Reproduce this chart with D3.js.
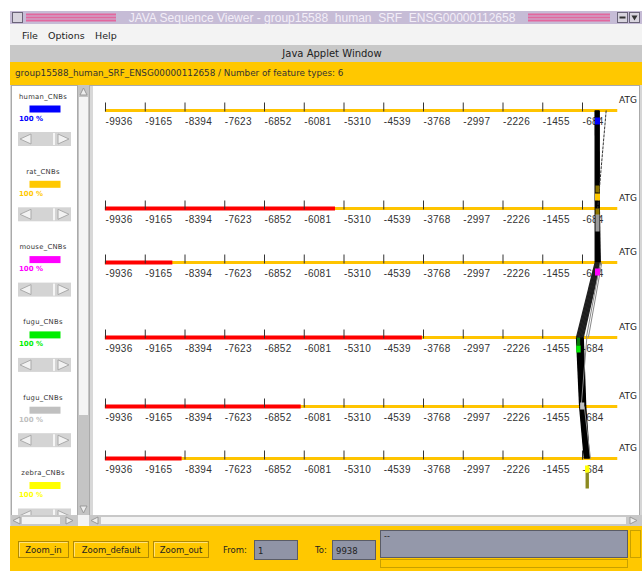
<!DOCTYPE html>
<html>
<head>
<meta charset="utf-8">
<script src="https://cdn.jsdelivr.net/npm/d3@7"></script>
<style>
  body { margin: 0; background: #fff; }
  svg { display: block; }
  text { font-family: "DejaVu Sans", sans-serif; }
</style>
</head>
<body>
<div id="viewer"></div>
<script>
// Sequence range shown (bp upstream of ATG)
const seqStart = -9938;
const seqEnd = 0;
const tickValues = [-9936, -9165, -8394, -7623, -6852, -6081, -5310, -4539, -3768, -2997, -2226, -1455, -684];

// One row per species track
const trackNames = ["human_CNBs", "rat_CNBs", "mouse_CNBs", "fugu_CNBs", "fugu_CNBs", "zebra_CNBs"];
const trackColors = ["#0000ff", "#ffc800", "#ff00ff", "#00ee00", "#c0c0c0", "#ffff00"];
const trackPercent = ["100 %", "100 %", "100 %", "100 %", "100 %", "100 %"];
// red region runs from seqStart up to this value (null = none)
const redEnds = [null, -5475, -8630, -3790, -6140, -8450];

// CNB anchor positions (bp), linked by index to the next track
const cnbHuman = [-430, -414, -398, -382, -366, -350];
const cnbRat = [-428, -412, -396, -380, -364, -348];
const cnbMouse = [-428, -408, -388, -368, -348, -330];
const cnbFugu = [-790, -764, -738, -712, -686, -660];
const cnbFugu2 = [-730, -706, -682, -658, -634, -612];
const cnbZebra = [-640, -620, -600, -580, -560, -540];
const cnbTracks = [cnbHuman, cnbRat, cnbMouse, cnbFugu, cnbFugu2, cnbZebra];

// highlighted feature block on each track
const featStart = [-432, -432, -432, -795, -720, -625];
const featEnd = [-335, -335, -335, -710, -640, -540];
// secondary (darker) hits next to the highlighted block
const hitTrack = [1, 1, 1, 3, 5];
const hitColor = ["#8c7400", "#8c7400", "#9a9a9a", "#0a7a0a", "#8c8a20"];
const hitTop = [-23, 0, 6, 0, 14];
const hitHeight = [7, 7, 17, 8, 16];

// weaker hits drawn in grey: track index, bp on that track, bp on next track
const weakTrack = [0, 2, 2, 3, 4];
const weakFrom = [-215, -330, -300, -590, -640];
const weakTo = [-380, -600, -560, -700, -520];

// ---- layout ----
const W = 642, H = 575;
const trackY = [110.5, 208.5, 262.5, 337.5, 406.5, 458.5];
const blockOffset = [7, -15, 6, 8, -4, 7];

const svg = d3.select("#viewer").append("svg")
    .attr("width", W)
    .attr("height", H);

// window frame
svg.append("rect").attr("x", 10).attr("y", 11).attr("width", 632).attr("height", 560).attr("fill", "#d6d6d6");

// title bar
svg.append("rect").attr("x", 10).attr("y", 11).attr("width", 632).attr("height", 13).attr("fill", "#c6bcd6");
[[26, 116], [528, 610]].forEach(function(s) {
    [13.5, 16.5, 19.5].forEach(function(y) {
        svg.append("rect").attr("x", s[0]).attr("y", y).attr("width", s[1] - s[0]).attr("height", 2).attr("fill", "#e2679e");
    });
});
function winButton(x, y, sym) {
    svg.append("rect").attr("x", x).attr("y", y).attr("width", 10).attr("height", 10)
        .attr("fill", "#d8d4de").attr("stroke", "#6a6478").attr("stroke-width", 1);
    if (sym === "min") {
        svg.append("rect").attr("x", x + 2).attr("y", y + 4).attr("width", 6).attr("height", 2).attr("fill", "#333");
    } else if (sym === "max") {
        svg.append("path").attr("d", `M${x + 2},${y + 3}L${x + 8},${y + 3}L${x + 5},${y + 8}Z`).attr("fill", "#333");
    }
}
winButton(12.5, 12.5, "box");
winButton(617.5, 12.5, "min");
winButton(629.5, 12.5, "max");
svg.append("text").attr("x", 322).attr("y", 22).attr("text-anchor", "middle")
    .style("font-family", "'Liberation Sans', sans-serif").style("font-size", "12px")
    .attr("fill", "#f3eef8")
    .text("JAVA Sequence Viewer - group15588_human_SRF_ENSG00000112658");

// menu bar
svg.append("rect").attr("x", 10).attr("y", 24).attr("width", 632).attr("height", 21).attr("fill", "#f3f3f3");
[["File", 22], ["Options", 48], ["Help", 95]].forEach(function(m) {
    svg.append("text").attr("x", m[1]).attr("y", 39).style("font-size", "9.5px").attr("fill", "#222").text(m[0]);
});

// applet banner
svg.append("rect").attr("x", 10).attr("y", 45).attr("width", 632).attr("height", 17).attr("fill", "#c8c8c8");
svg.append("text").attr("x", 332).attr("y", 57).attr("text-anchor", "middle").style("font-size", "10px")
    .attr("fill", "#222").text("Java Applet Window");

// group header
svg.append("rect").attr("x", 10).attr("y", 62).attr("width", 632).attr("height", 23).attr("fill", "#ffc800");
svg.append("text").attr("x", 15).attr("y", 76).style("font-size", "8.8px").attr("fill", "#333")
    .text("group15588_human_SRF_ENSG00000112658 / Number of feature types: 6");

// ---- legend panel ----
svg.append("rect").attr("x", 11.5).attr("y", 85.5).attr("width", 66).attr("height", 430)
    .attr("fill", "#fff").attr("stroke", "#aaa");
const legend = svg.append("g").attr("clip-path", "url(#legendClip)");
svg.append("clipPath").attr("id", "legendClip").append("rect").attr("x", 12).attr("y", 86).attr("width", 65).attr("height", 429);

function slider(g, x, y, w, h) {
    g.append("rect").attr("x", x).attr("y", y).attr("width", w).attr("height", h).attr("fill", "#d4d4d4");
    g.append("path").attr("d", `M${x + 13},${y + 2}L${x + 2},${y + h / 2}L${x + 13},${y + h - 2}Z`)
        .attr("fill", "#f2f2f2").attr("stroke", "#aaa");
    g.append("path").attr("d", `M${x + w - 13},${y + 2}L${x + w - 2},${y + h / 2}L${x + w - 13},${y + h - 2}Z`)
        .attr("fill", "#f2f2f2").attr("stroke", "#aaa");
    g.append("rect").attr("x", x + w - 18).attr("y", y + 1).attr("width", 2).attr("height", h - 2).attr("fill", "#f6f6f6");
}

trackNames.forEach(function(name, i) {
    const top = 85 + i * 75.3;
    legend.append("text").attr("x", 43).attr("y", top + 13.5).attr("text-anchor", "middle")
        .style("font-size", "6.8px").style("letter-spacing", "0.3px").attr("fill", "#333").text(name);
    legend.append("rect").attr("x", 29.5).attr("y", top + 20.5).attr("width", 31).attr("height", 7)
        .attr("fill", trackColors[i]);
    legend.append("text").attr("x", 19).attr("y", top + 35.5)
        .style("font-size", "7px").style("font-weight", "bold").attr("fill", trackColors[i]).text(trackPercent[i]);
    slider(legend, 18, top + 47, 53, 14);
});

// legend vertical scrollbar
svg.append("rect").attr("x", 78).attr("y", 85).attr("width", 11).attr("height", 430).attr("fill", "#c4c4c4");
svg.append("rect").attr("x", 79).attr("y", 97).attr("width", 9).attr("height", 318).attr("fill", "#f4f4f4");
svg.append("path").attr("d", "M80,95L83.5,88L87,95Z").attr("fill", "#eee").attr("stroke", "#999");
svg.append("path").attr("d", "M80,506L83.5,513L87,506Z").attr("fill", "#eee").attr("stroke", "#999");

// ---- main sequence panel ----
svg.append("rect").attr("x", 89.5).attr("y", 85.5).attr("width", 550).attr("height", 430)
    .attr("fill", "#fff").attr("stroke", "#aaa");
svg.append("rect").attr("x", 90).attr("y", 86).attr("width", 3).attr("height", 429).attr("fill", "#d8d8d8");

const x = d3.scaleLinear().domain([tickValues[0], tickValues[tickValues.length - 1]]).range([105, 582]);

const main = svg.append("g");

trackNames.forEach(function(name, i) {
    const y = trackY[i];
    const row = main.append("g").attr("transform", `translate(0,${y})`);

    row.append("line").attr("x1", x(seqStart)).attr("x2", x(seqEnd)).attr("y1", 0).attr("y2", 0)
        .attr("stroke", "#ffc400").attr("stroke-width", 3);
    if (redEnds[i] !== null) {
        row.append("line").attr("x1", x(seqStart)).attr("x2", x(redEnds[i])).attr("y1", 0).attr("y2", 0)
            .attr("stroke", "#ff0000").attr("stroke-width", 4);
    }

    const axis = d3.axisTop(x).tickValues(tickValues).tickSize(9).tickFormat("");
    const ag = row.append("g").attr("transform", "translate(0,1)").call(axis);
    ag.select(".domain").remove();
    ag.selectAll(".tick line").attr("stroke", "#333").attr("stroke-width", 1);

    row.selectAll("text.tl").data(tickValues).enter().append("text")
        .attr("class", "tl")
        .attr("x", function(d) { return x(d) + 0.5; })
        .attr("y", 14.5)
        .style("font-family", "'Liberation Sans', sans-serif")
        .style("font-size", "10px")
        .style("letter-spacing", "0.3px")
        .attr("fill", "#333")
        .text(function(d) { return String(d); });

    row.append("text").attr("x", 619).attr("y", -8).style("font-size", "9px").attr("fill", "#222").text("ATG");
});

// links between neighbouring tracks: solid band plus the individual hit lines
for (let t = 0; t < cnbTracks.length - 1; t++) {
    const a = cnbTracks[t], b = cnbTracks[t + 1];
    main.append("path")
        .attr("d", `M${x(a[0])},${trackY[t]}L${x(a[a.length - 1])},${trackY[t]}` +
                   `L${x(b[b.length - 1])},${trackY[t + 1]}L${x(b[0])},${trackY[t + 1]}Z`)
        .attr("fill", "#000");
    a.forEach(function(p, j) {
        main.append("line")
            .attr("x1", x(p)).attr("y1", trackY[t])
            .attr("x2", x(b[j])).attr("y2", trackY[t + 1])
            .attr("stroke", t === 2 ? "#222" : "#000").attr("stroke-width", 1.3);
    });
}
weakTrack.forEach(function(t, k) {
    main.append("line")
        .attr("x1", x(weakFrom[k])).attr("y1", trackY[t])
        .attr("x2", x(weakTo[k])).attr("y2", trackY[t + 1])
        .attr("stroke", k === 0 ? "#333" : "#888").attr("stroke-width", 1)
        .attr("stroke-dasharray", k === 0 ? "3,1" : null);
});

// secondary hits, then the highlighted feature blocks on top
hitTrack.forEach(function(t, k) {
    main.append("rect")
        .attr("x", x(featStart[t]) + 0.5)
        .attr("y", trackY[t] + hitTop[k])
        .attr("width", x(featEnd[t]) - x(featStart[t]) - 1)
        .attr("height", hitHeight[k])
        .attr("fill", hitColor[k]);
});
trackNames.forEach(function(name, i) {
    main.append("rect")
        .attr("x", x(featStart[i]))
        .attr("y", trackY[i] + blockOffset[i])
        .attr("width", x(featEnd[i]) - x(featStart[i]))
        .attr("height", 7)
        .attr("fill", trackColors[i]);
});

// ---- bottom scrollbars ----
svg.append("rect").attr("x", 11).attr("y", 515).attr("width", 631).attr("height", 11).attr("fill", "#c8c8c8");
svg.append("rect").attr("x", 22).attr("y", 517).attr("width", 38).attr("height", 7).attr("fill", "#f4f4f4");
svg.append("rect").attr("x", 78).attr("y", 515).attr("width", 11).attr("height", 11).attr("fill", "#f4f4f4");
svg.append("rect").attr("x", 101).attr("y", 517).attr("width", 525).attr("height", 7).attr("fill", "#f4f4f4");
[[13, "l"], [66, "r"], [91, "l"], [630, "r"]].forEach(function(a) {
    const ax = a[0];
    const d = a[1] === "l" ? `M${ax + 7},517L${ax},520.5L${ax + 7},524Z` : `M${ax},517L${ax + 7},520.5L${ax},524Z`;
    svg.append("path").attr("d", d).attr("fill", "#eee").attr("stroke", "#999");
});

// ---- control strip ----
svg.append("rect").attr("x", 10).attr("y", 526).attr("width", 632).attr("height", 45).attr("fill", "#ffc800");

function button(x0, w, label) {
    svg.append("rect").attr("x", x0 + 0.5).attr("y", 541.5).attr("width", w).attr("height", 16)
        .attr("fill", "#ffc800").attr("stroke", "#b08a00");
    svg.append("path").attr("d", `M${x0 + 1.5},${556.5}L${x0 + 1.5},542.5L${x0 + w - 0.5},542.5`)
        .attr("fill", "none").attr("stroke", "#ffe27a");
    svg.append("text").attr("x", x0 + w / 2 + 0.5).attr("y", 553).attr("text-anchor", "middle")
        .style("font-size", "8.5px").attr("fill", "#222").text(label);
}
button(18, 50, "Zoom_in");
button(73, 75, "Zoom_default");
button(153, 55, "Zoom_out");

svg.append("text").attr("x", 223).attr("y", 553).style("font-size", "8.5px").attr("fill", "#222").text("From:");
svg.append("text").attr("x", 315).attr("y", 553).style("font-size", "8.5px").attr("fill", "#222").text("To:");

function field(x0, w, val) {
    svg.append("rect").attr("x", x0 + 0.5).attr("y", 540.5).attr("width", w).attr("height", 19)
        .attr("fill", "#9094a6").attr("stroke", "#5a5c66");
    svg.append("text").attr("x", x0 + 4).attr("y", 553.5).style("font-size", "8.5px").attr("fill", "#222").text(val);
}
field(254, 43, "1");
field(332, 43, "9938");

svg.append("rect").attr("x", 380.5).attr("y", 530.5).attr("width", 247).attr("height", 27)
    .attr("fill", "#9498aa").attr("stroke", "#5a5c66");
svg.append("text").attr("x", 384).attr("y", 539).style("font-size", "8px").attr("fill", "#222").text("--");
svg.append("rect").attr("x", 380.5).attr("y", 559.5).attr("width", 247).attr("height", 8)
    .attr("fill", "#ffc800").attr("stroke", "#c8a000");
svg.append("rect").attr("x", 630.5).attr("y", 530.5).attr("width", 10).attr("height", 27)
    .attr("fill", "#ffc800").attr("stroke", "#c8a000");
</script>
</body>
</html>
